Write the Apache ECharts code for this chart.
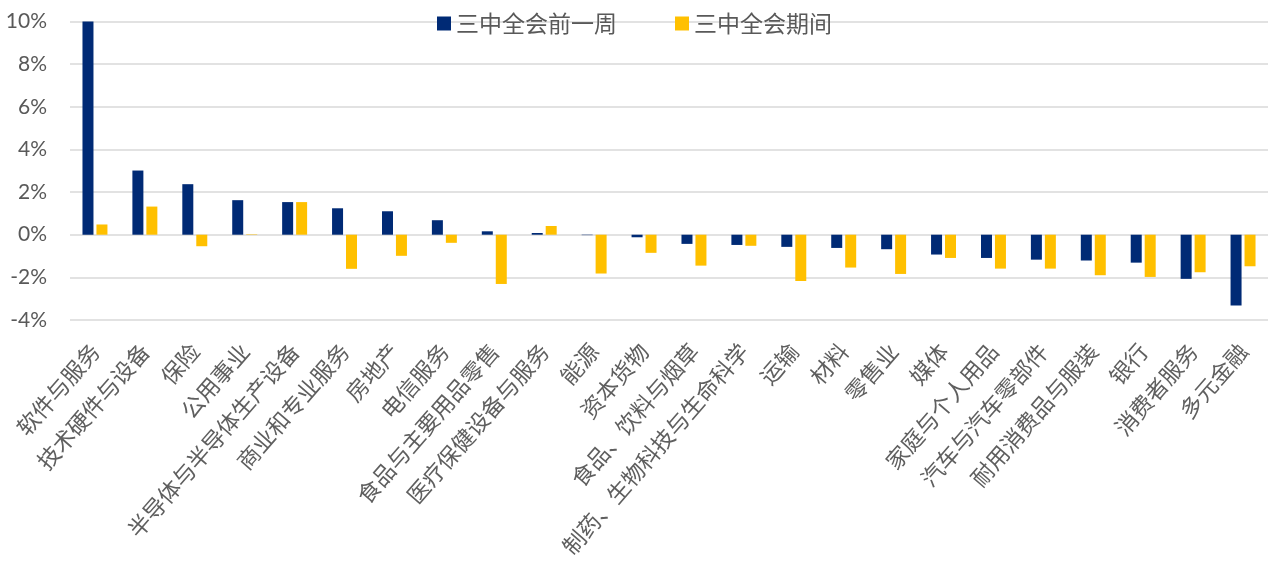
<!DOCTYPE html>
<html>
<head>
<meta charset="utf-8">
<script src="https://cdn.jsdelivr.net/npm/echarts@6/dist/echarts.min.js"></script>
<style>
  html, body { margin: 0; padding: 0; background: #ffffff; }
  #chart { width: 1269px; height: 567px; }
</style>
</head>
<body>
<div id="chart"></div>
<script>
// Sector returns (%), week before the Third Plenum vs. during the plenum
const categories = [
  '软件与服务', '技术硬件与设备', '保险', '公用事业', '半导体与半导体生产设备',
  '商业和专业服务', '房地产', '电信服务', '食品与主要用品零售', '医疗保健设备与服务',
  '能源', '资本货物', '食品、饮料与烟草', '制药、生物科技与生命科学', '运输',
  '材料', '零售业', '媒体', '家庭与个人用品', '汽车与汽车零部件',
  '耐用消费品与服装', '银行', '消费者服务', '多元金融'
];
const seriesNames = ['三中全会前一周', '三中全会期间'];
const weekBefore = [
  10.0, 3.01, 2.37, 1.62, 1.53,
  1.24, 1.10, 0.68, 0.16, 0.08,
  -0.02, -0.12, -0.43, -0.48, -0.57,
  -0.62, -0.68, -0.93, -1.09, -1.17,
  -1.21, -1.31, -2.07, -3.32
];
const duringPlenum = [
  0.48, 1.32, -0.54, 0.02, 1.53,
  -1.60, -0.99, -0.38, -2.31, 0.41,
  -1.82, -0.85, -1.45, -0.52, -2.17,
  -1.54, -1.84, -1.09, -1.59, -1.59,
  -1.90, -1.98, -1.76, -1.48
];
const yTicks = { min: -4, max: 10, step: 2 };

const chart = echarts.init(document.getElementById('chart'), null, { renderer: 'canvas' });
const cjk = '"Noto Sans CJK SC", sans-serif';

chart.setOption({
  animation: false,
  backgroundColor: '#ffffff',
  legend: {
    left: 432,
    top: 7,
    itemWidth: 14,
    itemHeight: 14,
    itemGap: 58,
    icon: 'rect',
    textStyle: { fontFamily: cjk, fontSize: 23, color: '#595959' },
    data: seriesNames
  },
  grid: { left: 70, right: 1, top: 21.5, bottom: 247, containLabel: false },
  xAxis: {
    type: 'category',
    data: categories,
    axisLine: { show: false, onZero: false },
    axisTick: { show: false },
    axisLabel: {
      interval: 0,
      rotate: 49,
      margin: 27,
      fontFamily: cjk,
      fontSize: 22.5,
      color: '#5f5f5f'
    }
  },
  yAxis: {
    type: 'value',
    min: yTicks.min,
    max: yTicks.max,
    interval: yTicks.step,
    axisLine: { show: false },
    axisTick: { show: false },
    splitLine: { lineStyle: { color: '#d9d9d9', width: 1.5 } },
    axisLabel: {
      formatter: '{value}%',
      margin: 23,
      fontFamily: 'Lato, "Liberation Sans", sans-serif',
      fontSize: 21,
      color: '#595959'
    }
  },
  series: [
    {
      name: seriesNames[0],
      type: 'bar',
      data: weekBefore,
      barWidth: 11,
      barGap: '27%',
      itemStyle: { color: '#002a75' }
    },
    {
      name: seriesNames[1],
      type: 'bar',
      data: duringPlenum,
      barWidth: 11,
      barGap: '27%',
      itemStyle: { color: '#ffc000' }
    }
  ]
});
</script>
</body>
</html>
